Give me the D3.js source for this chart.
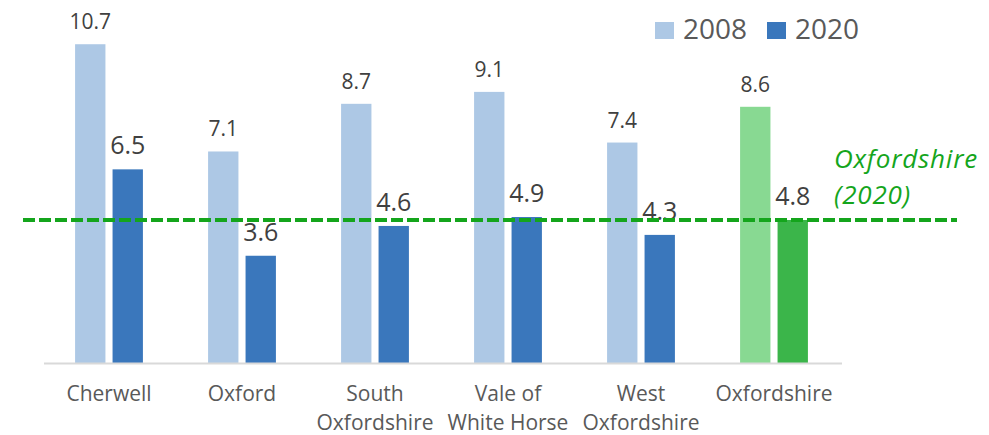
<!DOCTYPE html>
<html>
<head>
<meta charset="utf-8">
<script src="https://cdn.jsdelivr.net/npm/d3@7"></script>
<style>
  html, body { margin: 0; padding: 0; background: #fff; }
  svg { display: block; font-family: "Open Sans", "Noto Sans", sans-serif; }
</style>
</head>
<body>
<svg id="chart" width="989" height="435"></svg>
<script>
// Districts of Oxfordshire, values for 2008 and 2020
const categories = ["Cherwell", "Oxford", "South Oxfordshire", "Vale of White Horse", "West Oxfordshire", "Oxfordshire"];
const categoryLines = [["Cherwell"], ["Oxford"], ["South", "Oxfordshire"], ["Vale of", "White Horse"], ["West", "Oxfordshire"], ["Oxfordshire"]];
const years = ["2008", "2020"];
const values2008 = [10.7, 7.1, 8.7, 9.1, 7.4, 8.6];
const values2020 = [6.5, 3.6, 4.6, 4.9, 4.3, 4.8];
const countyAverage = 4.8;
const averageLabel = ["Oxfordshire", "(2020)"];

const blue = { "2008": "#adc8e5", "2020": "#3a77bc" };
const green = { "2008": "#88d992", "2020": "#3bb54a" };
const lineGreen = "#14a51c";

const svg = d3.select("#chart");

const x0 = d3.scaleBand().domain(categories).range([44, 842]).paddingInner(0.49).paddingOuter(0.245);
const x1 = d3.scaleBand().domain(years).range([0, x0.bandwidth()]).paddingInner(0.19);
const y = d3.scaleLinear().domain([0, 12]).range([363, 5.5]);

const rows = categories.map((c, i) => ({
  category: c,
  lines: categoryLines[i],
  bars: [
    { year: "2008", value: values2008[i] },
    { year: "2020", value: values2020[i] }
  ]
}));

// bars
const groups = svg.append("g").selectAll("g").data(rows).join("g")
  .attr("transform", d => `translate(${x0(d.category) - 1.5},0)`);

groups.selectAll("rect").data(d => d.bars.map(b => ({ ...b, county: d.category === "Oxfordshire" })))
  .join("rect")
  .attr("x", d => x1(d.year))
  .attr("y", d => y(d.value))
  .attr("width", x1.bandwidth())
  .attr("height", d => y(0) - y(d.value))
  .attr("fill", d => (d.county ? green : blue)[d.year]);

// value labels
groups.selectAll("text").data(d => d.bars).join("text")
  .attr("x", d => x1(d.year) + x1.bandwidth() / 2)
  .attr("y", d => y(d.value) - 15)
  .attr("text-anchor", "middle")
  .attr("fill", "#404040")
  .attr("font-size", d => d.year === "2008" ? 21 : 25)
  .text(d => d3.format(".1f")(d.value));

// category axis
const xAxis = svg.append("g").attr("transform", `translate(0,${y(0)})`)
  .call(d3.axisBottom(x0).tickSize(0).tickFormat(""));
xAxis.select(".domain").attr("stroke", "#d9d9d9").attr("stroke-width", 2).attr("d", "M44,0.5H842");

const tickLabels = svg.append("g").selectAll("text").data(rows).join("text")
  .attr("x", d => x0(d.category) + x0.bandwidth() / 2 - 1.5)
  .attr("y", 401)
  .attr("text-anchor", "middle")
  .attr("fill", "#595959")
  .attr("font-size", 21);
tickLabels.selectAll("tspan").data(d => d.lines).join("tspan")
  .attr("x", function () { return d3.select(this.parentNode).attr("x"); })
  .attr("dy", (d, i) => i === 0 ? 0 : 29)
  .text(d => d);

// county average reference line
svg.append("line")
  .attr("x1", 23).attr("x2", 957)
  .attr("y1", y(countyAverage)).attr("y2", y(countyAverage))
  .attr("stroke", lineGreen)
  .attr("stroke-width", 4)
  .attr("stroke-dasharray", "12 4");

// its label, one text per line
svg.append("g").selectAll("text").data(averageLabel).join("text")
  .attr("x", 834)
  .attr("y", (d, i) => 168 + i * 36)
  .attr("fill", lineGreen)
  .attr("font-size", 26)
  .attr("font-style", "italic")
  .attr("letter-spacing", 0.8)
  .text(d => d);

// legend
const legend = svg.append("g").selectAll("g").data(years).join("g")
  .attr("transform", (d, i) => `translate(${655 + i * 112},22)`);
legend.append("rect").attr("width", 19).attr("height", 17).attr("fill", d => blue[d]);
legend.append("text").attr("x", 28).attr("y", 16.5)
  .attr("fill", "#595959").attr("font-size", 28).text(d => d);
</script>
</body>
</html>
